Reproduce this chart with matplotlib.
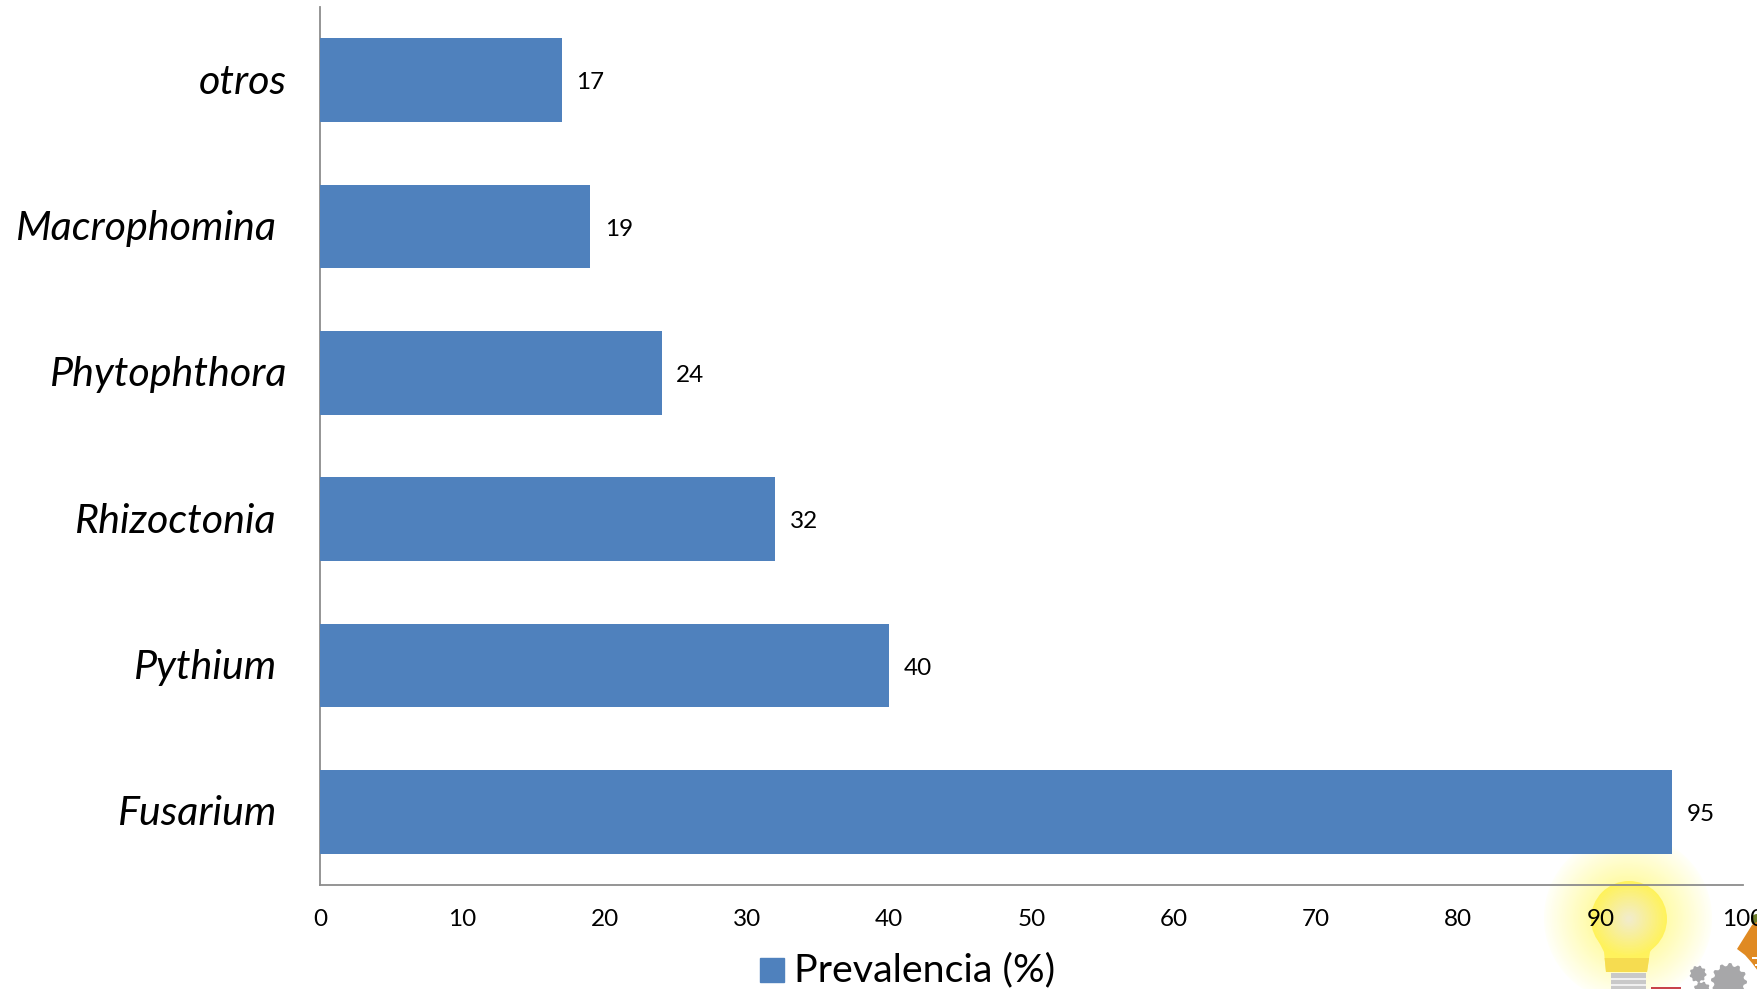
import numpy as np
import matplotlib
matplotlib.use("Agg")
import matplotlib.pyplot as plt
from matplotlib.colors import to_rgb
from matplotlib.patches import Circle, Polygon, Rectangle

plt.rcParams['font.family'] = ['Lato', 'DejaVu Sans']

# generos y prevalencia, de abajo hacia arriba
generos = ["Fusarium", "Pythium", "Rhizoctonia", "Phytophthora", "Macrophomina", "otros"]
prevalencia = [95, 40, 32, 24, 19, 17]
ticks_x = [0, 10, 20, 30, 40, 50, 60, 70, 80, 90, 100]
serie = "Prevalencia (%)"

AZUL = "#4F81BD"
GRIS = "#A7A7A9"
W, H = 1758, 989


def capa(z):
    # ejes transparentes en pixeles de la figura, y hacia abajo
    a = fig.add_axes([0, 0, 1, 1], zorder=z)
    a.set_xlim(0, W)
    a.set_ylim(H, 0)
    a.axis("off")
    a.patch.set_alpha(0)
    return a


def degradado(a, cx, cy, r0, r1, c0, c1, n=30):
    # circulos concentricos de r0 (color c0) hacia r1 (color c1)
    c0, c1 = np.array(to_rgb(c0)), np.array(to_rgb(c1))
    for f in np.linspace(0, 1, n):
        a.add_patch(Circle((cx, cy), r0 + (r1 - r0) * f, color=c0 + (c1 - c0) * f, lw=0))


def engranaje(a, cx, cy, r, dientes):
    ang = np.linspace(0, 2 * np.pi, dientes * 4, endpoint=False)
    rad = np.where(np.arange(dientes * 4) % 4 < 2, r, r * 0.84)
    a.add_patch(Polygon(np.c_[cx + rad * np.cos(ang), cy + rad * np.sin(ang)],
                        color=GRIS, lw=0))


fig = plt.figure(figsize=(W / 100, H / 100), dpi=100)
ax = fig.add_axes([320 / W, 1 - 885 / H, (1743 - 320) / W, (885 - 7) / H])
ax.patch.set_alpha(0)

y = np.arange(len(generos))
ax.barh(y, prevalencia, height=0.572, color=AZUL, zorder=3)
ax.set_xlim(0, 100)
ax.set_ylim(-0.5, 5.5)

for s in ["top", "right"]:
    ax.spines[s].set_visible(False)
for s in ["left", "bottom"]:
    ax.spines[s].set_color("#8C8C8C")
    ax.spines[s].set_linewidth(1.3)

ax.set_yticks([])
ax.set_xticks(ticks_x)
ax.tick_params(axis="x", length=0, pad=17.5, labelsize=17.5)

# valores al final de cada barra
for yi, v in zip(y, prevalencia):
    ax.annotate(str(v), (v, yi), xytext=(10.5, -2), textcoords="offset points",
                va="center", ha="left", fontsize=17.5)

# etiquetas en cursiva, no todas con el mismo margen derecho
margen = [43, 43, 43, 33, 43, 33]
for yi, nombre, m in zip(y, generos, margen):
    ax.annotate(nombre, (0, yi), xytext=(-m, -2), textcoords="offset pixels",
                va="center", ha="right", fontsize=29.7, style="italic")

# leyenda
fig.patches.append(Rectangle((760 / W, 1 - 982 / H), 24 / W, 24 / H,
                             transform=fig.transFigure, color=AZUL))
fig.text(794 / W, 1 - 970 / H, serie, fontsize=28.4, va="center", ha="left")

# bombilla por detras del grafico
fondo = capa(-1)
degradado(fondo, 1628, 918, 84, 37, "#FFFFF8", "#FFFBA8")
cuello = Polygon([(1595, 934), (1604, 952), (1606, 972), (1647, 972), (1650, 952), (1662, 934)],
                 color="#FFF25C", lw=0)
fondo.add_patch(cuello)
base = Rectangle((1600, 958), 55, 15, color="#F6DC50", lw=0)
fondo.add_patch(base)
base.set_clip_path(cuello)
degradado(fondo, 1629, 919, 38, 3, "#FFF25C", "#F2ECC8", n=25)

# casquillo, barra roja y engranajes
icono = capa(5)
icono.add_patch(Rectangle((1611, 973), 35, 16, color="#C9C9C9", lw=0))
for yb in [978, 984]:
    icono.add_patch(Rectangle((1611, yb), 35, 2, color="#F0F0F0", lw=0))
icono.add_patch(Rectangle((1651, 987), 30, 2, color="#C8424A", lw=0))
engranaje(icono, 1698, 974, 8.5, 9)
engranaje(icono, 1702, 990, 8.5, 9)
engranaje(icono, 1729, 981, 18, 12)

# sector naranja en la esquina
naranja = capa(-0.5)
naranja.add_patch(Circle((1757, 920), 6, color="#6E7F2A", lw=0))
naranja.add_patch(Polygon([(1758, 921), (1752, 925), (1737, 949), (1745, 955),
                           (1752, 963), (1758, 971)], color="#E08A22", lw=0))
naranja.add_patch(Rectangle((1752, 957), 6, 2, color="#FFFFFF", lw=0))
naranja.add_patch(Rectangle((1755, 964), 3, 2, color="#FFFFFF", lw=0))

fig.savefig("out.png", dpi=100)
